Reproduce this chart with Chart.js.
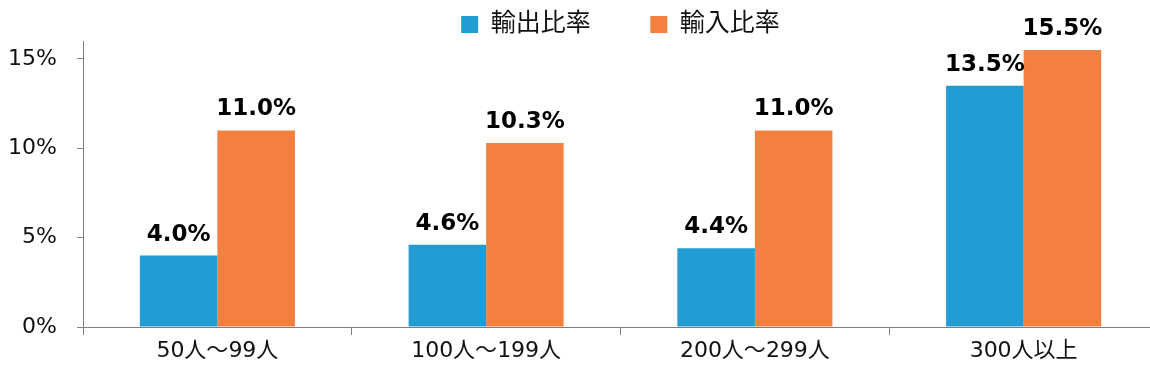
<!DOCTYPE html>
<html>
<head>
<meta charset="utf-8">
<script src="https://cdn.jsdelivr.net/npm/chart.js@4/dist/chart.umd.min.js"></script>
<style>
  html, body { margin: 0; padding: 0; background: #fff; overflow: hidden; }
  #wrap { position: relative; width: 1158px; height: 365px; }
</style>
</head>
<body>
<div id="wrap"><canvas id="chart"></canvas></div>
<script>
const categories = ['50人～99人', '100人～199人', '200人～299人', '300人以上'];
const seriesNames = ['輸出比率', '輸入比率'];
const exportRatio = [4.0, 4.6, 4.4, 13.5];
const importRatio = [11.0, 10.3, 11.0, 15.5];
const yTicks = [0, 5, 10, 15];
const yMax = 16;

const FONT = "'DejaVu Sans', 'Noto Sans CJK JP', sans-serif";
const BLUE = '#239bd3';
const ORANGE = '#f3803f';
const AXIS = '#808080';

// draws the value above each bar
const barLabels = {
    id: 'barLabels',
    afterDatasetsDraw(chart) {
        const ctx = chart.ctx;
        ctx.save();
        ctx.font = 'bold 23px ' + FONT;
        ctx.fillStyle = '#000';
        ctx.textAlign = 'center';
        ctx.textBaseline = 'alphabetic';
        chart.data.datasets.forEach((ds, i) => {
            chart.getDatasetMeta(i).data.forEach((bar, j) => {
                ctx.fillText(ds.data[j].toFixed(1) + '%', bar.x, bar.y - 15);
            });
        });
        ctx.restore();
    }
};

const chart = new Chart(document.getElementById('chart').getContext('2d'), {
    type: 'bar',
    data: {
        labels: categories,
        datasets: [
            { label: seriesNames[0], data: exportRatio, backgroundColor: BLUE, borderWidth: 0 },
            { label: seriesNames[1], data: importRatio, backgroundColor: ORANGE, borderWidth: 0 }
        ]
    },
    options: {
        responsive: true,
        maintainAspectRatio: false,
        animation: false,
        layout: { padding: 0 },
        categoryPercentage: 0.577,
        barPercentage: 1,
        plugins: {
            tooltip: { enabled: false },
            legend: {
                position: 'top',
                fullSize: false,
                maxHeight: 41,
                labels: {
                    boxWidth: 17,
                    boxHeight: 17,
                    padding: 12,
                    color: '#111',
                    font: { family: FONT, size: 25 },
                    generateLabels(chart) {
                        const items = Chart.defaults.plugins.legend.labels.generateLabels(chart);
                        items.forEach(it => { it.lineWidth = 0; });
                        items[0].text = items[0].text + '      ';
                        return items;
                    }
                }
            }
        },
        scales: {
            x: {
                grid: {
                    offset: true,
                    drawOnChartArea: false,
                    drawTicks: true,
                    tickLength: 8,
                    color: AXIS
                },
                border: { display: true, color: AXIS, width: 1 },
                ticks: {
                    color: '#111',
                    padding: 3,
                    maxRotation: 0,
                    font: { family: FONT, size: 22 }
                },
                afterFit(scale) { scale.height = 38; }
            },
            y: {
                min: 0,
                max: yMax,
                afterBuildTicks(scale) {
                    scale.ticks = yTicks.map(v => ({ value: v }));
                },
                grid: {
                    drawOnChartArea: false,
                    drawTicks: true,
                    tickLength: 6,
                    color: AXIS
                },
                border: { display: true, color: AXIS, width: 1 },
                ticks: {
                    color: '#111',
                    padding: 20,
                    font: { family: FONT, size: 22 },
                    callback: v => v + '%'
                },
                afterFit(scale) { scale.width = 83; }
            }
        }
    },
    plugins: [barLabels]
});
</script>
</body>
</html>
